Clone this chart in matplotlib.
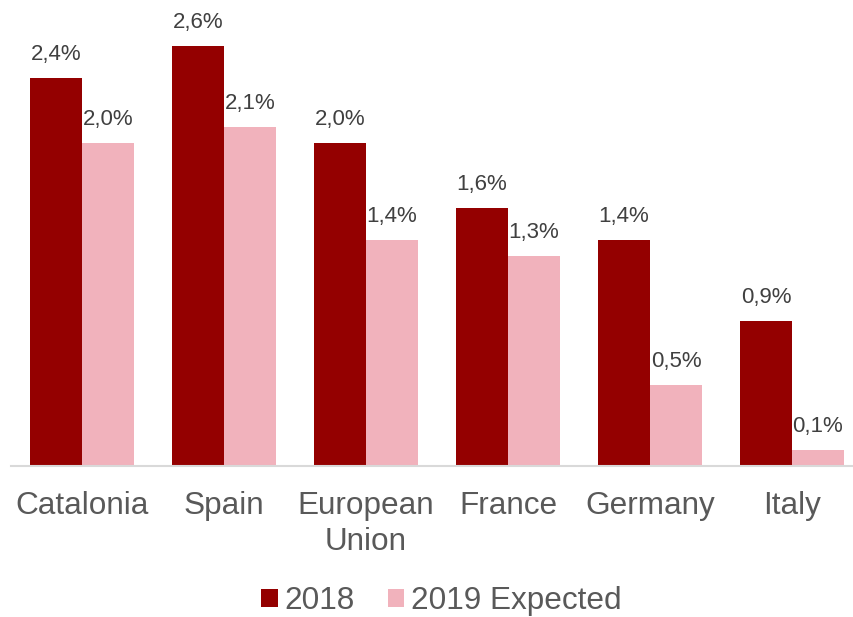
import matplotlib.pyplot as plt
import numpy as np

plt.rcParams['font.family'] = ['Liberation Sans', 'DejaVu Sans']

categories = ['Catalonia', 'Spain', 'European\nUnion', 'France', 'Germany', 'Italy']
growth_2018 = [2.4, 2.6, 2.0, 1.6, 1.4, 0.9]
growth_2019 = [2.0, 2.1, 1.4, 1.3, 0.5, 0.1]
series_names = ['2018', '2019 Expected']

dark_red = '#940000'
pink = '#F1B2BC'
text_grey = '#595959'
label_grey = '#404040'

fig = plt.figure(figsize=(8.54, 6.17), dpi=100)
ax = fig.add_axes([11 / 854, 151 / 617, 843 / 854, 466 / 617])

x = np.arange(len(categories))
width = 0.366
bars_a = ax.bar(x - width / 2, growth_2018, width, color=dark_red, label=series_names[0])
bars_b = ax.bar(x + width / 2, growth_2019, width, color=pink, label=series_names[1])

# value labels above each bar, decimal comma
for bars in (bars_a, bars_b):
    for b in bars:
        ax.annotate('{:.1f}%'.format(b.get_height()).replace('.', ','),
                    (b.get_x() + b.get_width() / 2, b.get_height()),
                    xytext=(0, 13), textcoords='offset points',
                    ha='center', va='baseline', fontsize=16, color=label_grey)

ax.set_xlim(-0.5, 5.5 - 9 / 142)
ax.set_ylim(0, 466 / 161.5)
ax.set_xticks(x)
ax.set_xticklabels(categories, fontsize=22.7, color=text_grey, linespacing=1.26)
ax.tick_params(axis='x', length=0, pad=18)
ax.set_yticks([])
for side in ('top', 'right', 'left'):
    ax.spines[side].set_visible(False)
ax.spines['bottom'].set_color('#D9D9D9')
ax.spines['bottom'].set_linewidth(1.5)

leg = fig.legend(handles=[bars_a, bars_b], labels=series_names, loc='center',
                 bbox_to_anchor=(441.5 / 854, 1 - 601 / 617), ncol=2, frameon=False,
                 fontsize=22.7, handlelength=0.51, handleheight=0.51, handletextpad=0.22,
                 columnspacing=1.05, borderpad=0, borderaxespad=0)
for t in leg.get_texts():
    t.set_color(text_grey)

fig.savefig('out.png', dpi=100)
